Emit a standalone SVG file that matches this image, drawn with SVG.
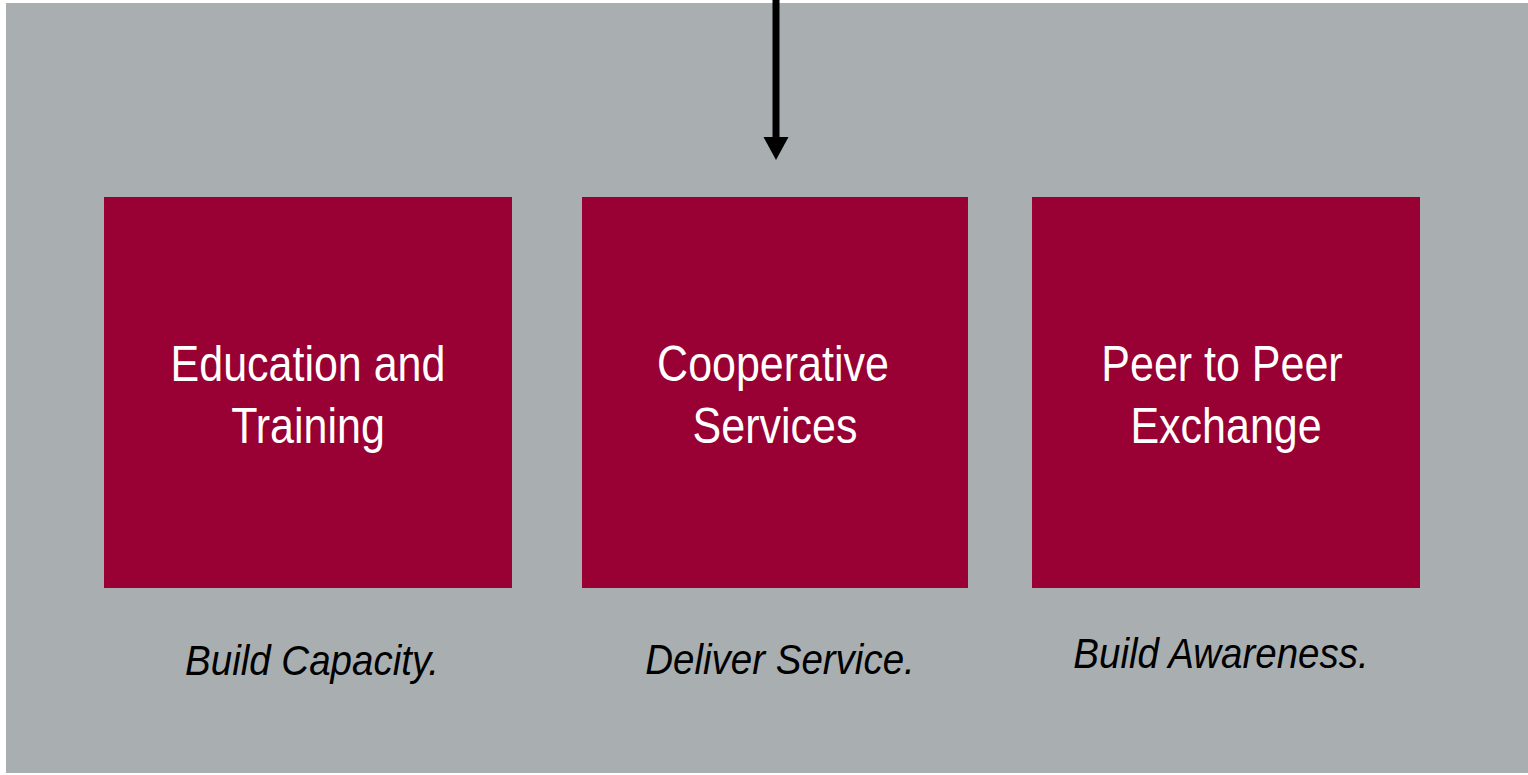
<svg xmlns="http://www.w3.org/2000/svg" width="1528" height="775" viewBox="0 0 1528 775">
  <style>
    .box { fill: #990033; }
    .title { font-family: "Liberation Sans", Arial, sans-serif; font-size: 43px; fill: #ffffff; text-anchor: middle; }
    .sub { font-family: "Liberation Sans", Arial, sans-serif; font-size: 38.5px; font-style: italic; fill: #000000; text-anchor: middle; }
  </style>
  <defs>
    <marker id="arrow" markerWidth="25" markerHeight="23" refX="12.5" refY="0" viewBox="0 0 25 23" markerUnits="userSpaceOnUse" orient="auto-start-reverse">
      <path d="M0,0 L25,0 L12.5,23 Z" fill="#000000"/>
    </marker>
  </defs>
  <rect x="0" y="0" width="1528" height="775" fill="#ffffff"/>
  <rect x="6" y="3" width="1522" height="770" fill="#a9afb0"/>

  <g id="connectors">
    <line x1="776" y1="0" x2="776" y2="137" stroke="#000000" stroke-width="7"/>
    <path d="M763.5,137 L788.5,137 L776,160 Z" fill="#000000"/>
  </g>

  <g id="node-education">
    <rect class="box" x="104" y="197" width="408" height="391"/>
    <text class="title" transform="translate(308,381) scale(1,1.17)">Education and</text>
    <text class="title" transform="translate(308,443) scale(1,1.17)">Training</text>
    <text class="sub" transform="translate(312,675) scale(1,1.1)">Build Capacity.</text>
  </g>

  <g id="node-cooperative">
    <rect class="box" x="582" y="197" width="386" height="391"/>
    <text class="title" transform="translate(773,381) scale(1,1.17)">Cooperative</text>
    <text class="title" transform="translate(775,443) scale(1,1.17)">Services</text>
    <text class="sub" transform="translate(780,674) scale(1,1.1)">Deliver Service.</text>
  </g>

  <g id="node-peer">
    <rect class="box" x="1032" y="197" width="388" height="391"/>
    <text class="title" transform="translate(1222,381) scale(1,1.17)">Peer to Peer</text>
    <text class="title" transform="translate(1226,443) scale(1,1.17)">Exchange</text>
    <text class="sub" transform="translate(1221,668) scale(1,1.1)">Build Awareness.</text>
  </g>
</svg>
